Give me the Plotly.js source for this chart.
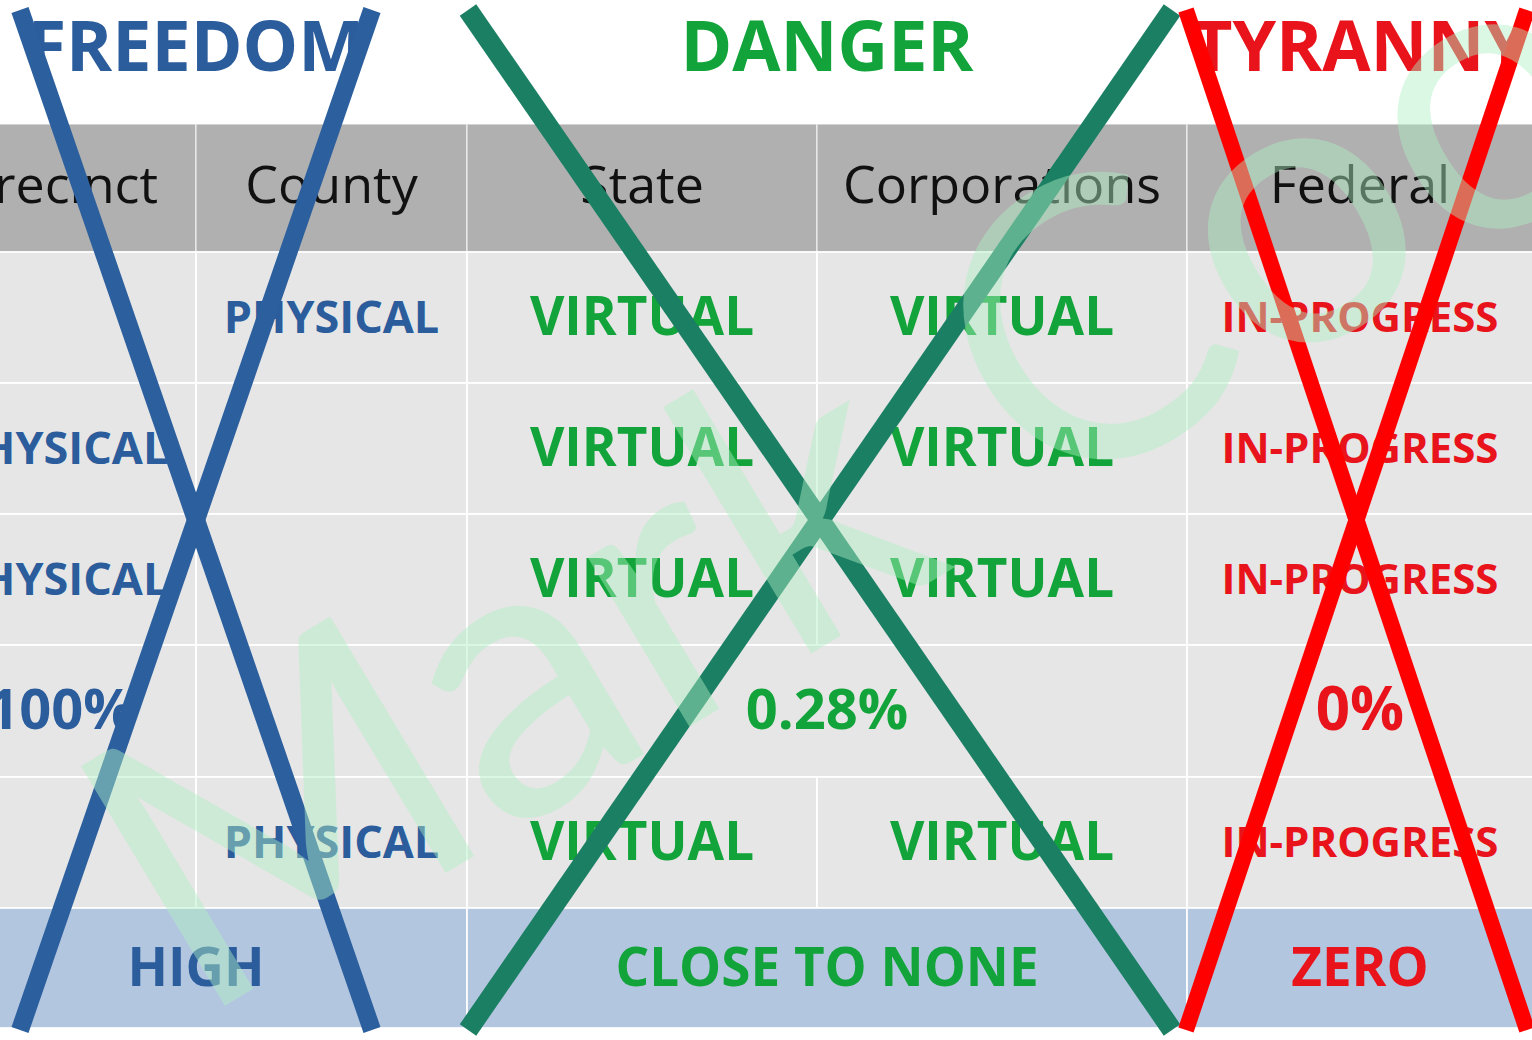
<!DOCTYPE html>
<html>
<head>
<meta charset="utf-8">
<script src="https://cdn.plot.ly/plotly-3.0.1.min.js"></script>
<style>
  html, body { margin: 0; padding: 0; background: #ffffff; }
  #chart { width: 1532px; height: 1040px; }
</style>
</head>
<body>
<div id="chart"></div>
<script>
// ---------- DATA ----------
const groups = ["FREEDOM", "DANGER", "TYRANNY"];
const groupSpans = [2, 2, 1];                 // number of columns per group
const columns = ["Precinct", "County", "State", "Corporations", "Federal"];
const row1 = ["", "PHYSICAL", "VIRTUAL", "VIRTUAL", "IN-PROGRESS"];
const row2 = ["PHYSICAL", "", "VIRTUAL", "VIRTUAL", "IN-PROGRESS"];
const row3 = ["PHYSICAL", "", "VIRTUAL", "VIRTUAL", "IN-PROGRESS"];
const row4 = ["100%", "", "0.28%", null, "0%"];   // null = merged with cell to its left
const row5 = ["", "PHYSICAL", "VIRTUAL", "VIRTUAL", "IN-PROGRESS"];
const summary = ["HIGH", "CLOSE TO NONE", "ZERO"];  // one per group
const watermark = "Mark Coo";

// ---------- LAYOUT CONSTANTS ----------
const W = 1532, H = 1040;
const colEdges = [-75, 196, 467, 817, 1187, 1533];
const headerTop = 124, headerBottom = 252;
const rowEdges = [252, 383, 514, 645, 777, 908];
const summaryBottom = 1028;
const titleY = 53;
const groupTextColors = ["#2b5c9c", "#12a43a", "#e8131b"];
const groupLineColors = ["#2c5f9e", "#1b7f63", "#ff0000"];
const groupLineWidths = [18, 20, 16];
const crossX = [[20, 372], [468, 1172], [1186, 1527]];
const crossY = [10, 1030];
const sizeFor = { "PHYSICAL": 45, "VIRTUAL": 53, "IN-PROGRESS": 42, "0%": 60 };
const boldFont = "Open Sans, Noto Sans, sans-serif";

const rows = [row1, row2, row3, row4, row5];

// column -> group index
const colGroup = [];
groupSpans.forEach((n, g) => { for (let i = 0; i < n; i++) colGroup.push(g); });
// group -> column range
const groupRange = [];
{ let c = 0; groupSpans.forEach(n => { groupRange.push([c, c + n - 1]); c += n; }); }

const shapes = [];
const cellBorder = "rgba(255,255,255,0.85)";

// header background cells
columns.forEach((name, c) => {
  shapes.push({ type: "rect", layer: "below", xref: "x", yref: "y",
    x0: colEdges[c], x1: colEdges[c + 1], y0: headerTop, y1: headerBottom,
    fillcolor: "#b0b0b0", line: { color: "rgba(255,255,255,0.6)", width: 1.5 } });
});

// body cells (with merges)
const cellTextX = [], cellTextY = [], cellText = [], cellColor = [], cellSize = [];
rows.forEach((r, ri) => {
  const y0 = rowEdges[ri], y1 = rowEdges[ri + 1];
  let c = 0;
  while (c < r.length) {
    let end = c;
    while (end + 1 < r.length && r[end + 1] === null) end++;
    shapes.push({ type: "rect", layer: "below", xref: "x", yref: "y",
      x0: colEdges[c], x1: colEdges[end + 1], y0: y0, y1: y1,
      fillcolor: "#e6e6e6", line: { color: cellBorder, width: 2 } });
    if (r[c]) {
      cellTextX.push((colEdges[c] + colEdges[end + 1]) / 2);
      cellTextY.push((y0 + y1) / 2 + 4);
      cellText.push(r[c]);
      cellColor.push(groupTextColors[colGroup[c]]);
      cellSize.push(sizeFor[r[c]] || 56);
    }
    c = end + 1;
  }
});

// summary row
const sumX = [], sumY = [], sumColor = [];
summary.forEach((s, g) => {
  const [a, b] = groupRange[g];
  shapes.push({ type: "rect", layer: "below", xref: "x", yref: "y",
    x0: colEdges[a], x1: colEdges[b + 1], y0: rowEdges[rowEdges.length - 1], y1: summaryBottom,
    fillcolor: "#b3c6df", line: { color: cellBorder, width: 2 } });
  sumX.push((colEdges[a] + colEdges[b + 1]) / 2);
  sumY.push((rowEdges[rowEdges.length - 1] + summaryBottom) / 2 + 5);
  sumColor.push(groupTextColors[g]);
});

// group titles
const titleX = groups.map((g, i) => {
  const [a, b] = groupRange[i];
  return (colEdges[a] + colEdges[b + 1]) / 2;
});

// crosses (above text)
groups.forEach((g, i) => {
  const [xa, xb] = crossX[i];
  const st = { color: groupLineColors[i], width: groupLineWidths[i] };
  shapes.push({ type: "line", layer: "above", xref: "x", yref: "y",
    x0: xa, y0: crossY[0], x1: xb, y1: crossY[1], line: st });
  shapes.push({ type: "line", layer: "above", xref: "x", yref: "y",
    x0: xb, y0: crossY[0], x1: xa, y1: crossY[1], line: st });
});

const traces = [
  { type: "scatter", mode: "text", x: titleX, y: groups.map(() => titleY), text: groups,
    textposition: "middle center", hoverinfo: "skip", cliponaxis: false,
    textfont: { family: boldFont, size: 70, color: groupTextColors, weight: 700 } },
  { type: "scatter", mode: "text",
    x: columns.map((c, i) => (colEdges[i] + colEdges[i + 1]) / 2),
    y: columns.map(() => (headerTop + headerBottom) / 2 + 2), text: columns,
    textposition: "middle center", hoverinfo: "skip", cliponaxis: false,
    textfont: { family: "Open Sans, Noto Sans, sans-serif", size: 52, color: "#111111" } },
  { type: "scatter", mode: "text", x: cellTextX, y: cellTextY, text: cellText,
    textposition: "middle center", hoverinfo: "skip", cliponaxis: false,
    textfont: { family: boldFont, size: cellSize, color: cellColor, weight: 700 } },
  { type: "scatter", mode: "text", x: sumX, y: sumY, text: summary,
    textposition: "middle center", hoverinfo: "skip", cliponaxis: false,
    textfont: { family: boldFont, size: 53, color: sumColor, weight: 700 } }
];

const layout = {
  width: W, height: H,
  margin: { l: 0, r: 0, t: 0, b: 0, pad: 0 },
  paper_bgcolor: "#ffffff", plot_bgcolor: "#ffffff",
  showlegend: false,
  xaxis: { range: [0, W], visible: false, fixedrange: true },
  yaxis: { range: [H, 0], visible: false, fixedrange: true },
  shapes: shapes,
  annotations: [{
    xref: "x", yref: "y", x: 840, y: 460, text: watermark, showarrow: false,
    textangle: -31, xanchor: "center", yanchor: "middle",
    font: { family: "Lato, sans-serif", size: 390, color: "rgba(175,240,195,0.45)" }
  }]
};

Plotly.newPlot("chart", traces, layout, { displayModeBar: false, staticPlot: true });
</script>
</body>
</html>
